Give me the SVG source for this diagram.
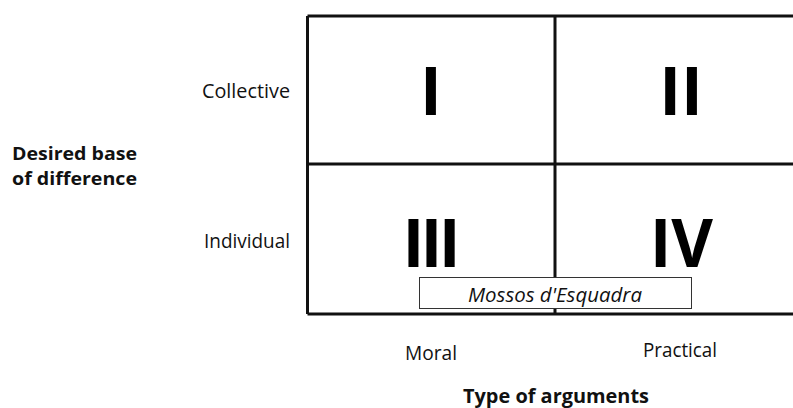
<svg xmlns="http://www.w3.org/2000/svg" width="793" height="408" viewBox="0 0 793 408">
<style>
text{font-family:"Open Sans","Noto Sans","DejaVu Sans",sans-serif;fill:#111}
.lbl{font-size:19.5px}
.bold{font-size:19.5px;font-weight:bold}
.num{font-size:66px;font-weight:bold;text-anchor:middle;fill:#000}
.grid{stroke:#111;stroke-width:3;fill:none}
</style>
<rect width="793" height="408" fill="#fff"/>
<g id="axes">
<text class="bold" x="12" y="160" style="font-size:18px" textLength="125" lengthAdjust="spacingAndGlyphs">Desired base</text>
<text class="bold" x="12" y="185" style="font-size:18px" textLength="125" lengthAdjust="spacingAndGlyphs">of difference</text>
<text class="bold" x="463" y="403" textLength="186" lengthAdjust="spacingAndGlyphs">Type of arguments</text>
<text class="lbl" x="202" y="98" textLength="88" lengthAdjust="spacingAndGlyphs">Collective</text>
<text class="lbl" x="204" y="248" textLength="86" lengthAdjust="spacingAndGlyphs">Individual</text>
<text class="lbl" x="405" y="360" textLength="52" lengthAdjust="spacingAndGlyphs">Moral</text>
<text class="lbl" x="643" y="357" textLength="74" lengthAdjust="spacingAndGlyphs">Practical</text>
</g>
<g id="connectors">
<path class="grid" d="M307.5 16 H793 M307.5 314 H793 M307.5 16 V314 M555 16 V314"/>
<path class="grid" d="M307.5 164 H793" stroke-width="4"/>
</g>
<g id="q1"><text class="num" x="431" y="115">I</text></g>
<g id="q2"><text class="num" x="681" y="115">II</text></g>
<g id="q3"><text class="num" x="431.5" y="267" textLength="58" lengthAdjust="spacing">III</text></g>
<g id="q4"><text class="num" x="681.5" y="267" textLength="63" lengthAdjust="spacingAndGlyphs">IV</text></g>
<g id="mossos">
<rect x="419.5" y="277.5" width="272" height="31" fill="#fff" stroke="#333" stroke-width="1"/>
<text class="lbl" x="468" y="302" style="font-size:20px;font-style:italic" textLength="174" lengthAdjust="spacingAndGlyphs">Mossos d'Esquadra</text>
</g>
</svg>
